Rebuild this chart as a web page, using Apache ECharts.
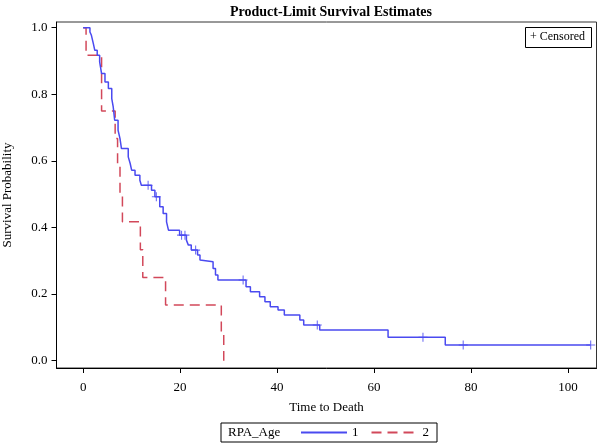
<!DOCTYPE html>
<html>
<head>
<meta charset="utf-8">
<script src="https://cdn.jsdelivr.net/npm/echarts@6/dist/echarts.min.js"></script>
<style>html,body{margin:0;padding:0;background:#fff;}#c{width:600px;height:444px;}</style>
</head>
<body>
<div id="c"></div>
<script>
// Kaplan-Meier step data: [time, survival]
const group1Steps = [
  [0,1.0],[1.4,0.987],[1.7,0.977],[2.1,0.952],[2.4,0.932],[2.9,0.917],[3.4,0.897],
  [3.8,0.862],[4.5,0.837],[5.2,0.817],[5.9,0.787],[6.2,0.762],[6.5,0.722],[7.2,0.692],
  [7.6,0.667],[7.9,0.637],[9.3,0.612],[9.7,0.592],[10.0,0.572],[10.7,0.557],[11.7,0.542],
  [12.0,0.527],[14.1,0.512],[14.8,0.492],[15.8,0.462],[16.5,0.442],[17.2,0.417],[17.6,0.392],
  [19.9,0.377],[21.3,0.362],[21.7,0.347],[22.3,0.332],[23.6,0.317],[24.1,0.302],[24.4,0.297],
  [26.8,0.277],[27.3,0.257],[27.8,0.242],[33.6,0.222],[34.5,0.207],[36.4,0.192],[37.5,0.177],
  [38.6,0.162],[40.2,0.152],[41.5,0.137],[44.7,0.122],[45.5,0.107],[48.8,0.092],[62.9,0.070],
  [74.7,0.047],[104.7,0.047]
];
const group1Censored = [13.4, 15.1, 20.3, 21.0, 23.2, 33.0, 48.3, 70.1, 78.4, 104.7];
const group2Steps = [
  [0,1.0],[0.6,0.917],[3.8,0.75],[6.6,0.667],[7.1,0.583],[7.6,0.5],[8.1,0.417],
  [11.8,0.333],[12.3,0.25],[17.0,0.167],[28.5,0.083],[29.0,0.0]
];
const group2Censored = [];
const xTicks = [0, 20, 40, 60, 80, 100];
const yTicks = [0, 0.2, 0.4, 0.6, 0.8, 1.0];
const groupNames = ['1', '2'];

function survAt(steps, t) {
  let v = steps[0][1];
  for (const p of steps) { if (p[0] <= t) v = p[1]; }
  return v;
}
const plus = 'path://M0,4.4L10,4.4L10,5.6L0,5.6ZM4.4,0L5.6,0L5.6,10L4.4,10Z';
const blue = '#4a4af0', red = '#d2485a';
const font = '"Liberation Serif", "DejaVu Serif", serif';

const chart = echarts.init(document.getElementById('c'), null, {renderer: 'canvas'});
chart.setOption({
  animation: false,
  backgroundColor: '#fff',
  title: {
    text: 'Product-Limit Survival Estimates', left: 326, top: 0, textAlign: 'center',
    textStyle: {fontFamily: font, fontSize: 14, fontWeight: 'bold', color: '#000'}
  },
  grid: {left: 56.5, right: 3.5, top: 22, bottom: 76, show: true, borderColor: '#333', borderWidth: 1,
         backgroundColor: 'transparent', outerBoundsMode: 'none', containLabel: false},
  xAxis: {
    type: 'value', min: -5.5, max: 105.9,
    name: 'Time to Death', nameLocation: 'middle', nameGap: 33,
    nameTextStyle: {fontFamily: font, fontSize: 13, color: '#000'},
    axisLine: {show: true, onZero: false, lineStyle: {color: '#000', width: 1}},
    axisTick: {show: true, length: 5, inside: false, customValues: xTicks, lineStyle: {color: '#000'}},
    axisLabel: {customValues: xTicks, margin: 13, fontFamily: font, fontSize: 13, color: '#000'},
    splitLine: {show: false}
  },
  yAxis: {
    type: 'value', min: -0.022, max: 1.017,
    name: 'Survival Probability', nameLocation: 'middle', nameGap: 42, nameRotate: 90,
    nameTextStyle: {fontFamily: font, fontSize: 13, color: '#000'},
    axisLine: {show: true, onZero: false, lineStyle: {color: '#000', width: 1}},
    axisTick: {show: true, length: 5, inside: false, customValues: yTicks, lineStyle: {color: '#000'}},
    axisLabel: {customValues: yTicks, margin: 9, fontFamily: font, fontSize: 13, color: '#000',
                formatter: v => v.toFixed(1)},
    splitLine: {show: false}
  },
  legend: {
    left: 221, top: 423, orient: 'horizontal',
    data: groupNames,
    padding: [3, 8, 3, 79], itemGap: 12, itemWidth: 46, itemHeight: 14,
    borderColor: '#000', borderWidth: 1,
    itemStyle: {opacity: 0},
    textStyle: {fontFamily: font, fontSize: 13, color: '#000'}
  },
  graphic: [
    {type: 'text', left: 228, top: 426, style: {text: 'RPA_Age', font: '13px ' + font, fill: '#000'}},
    {type: 'rect', shape: {x: 525.5, y: 27.5, width: 66, height: 20}, style: {fill: '#fff', stroke: '#000', lineWidth: 1}},
    {type: 'text', left: 530, top: 31, style: {text: '+ Censored', font: '12px ' + font, fill: '#000'}}
  ],
  series: [
    {name: groupNames[0], type: 'line', step: 'end', data: group1Steps, showSymbol: false, symbol: 'none',
     lineStyle: {color: blue, width: 1.5}, itemStyle: {color: blue}, z: 3},
    {name: groupNames[1], type: 'line', step: 'end', data: group2Steps, showSymbol: false, symbol: 'none',
     lineStyle: {color: red, width: 1.5, type: [10, 6]}, itemStyle: {color: red}, z: 2},
    {name: 'cens1', type: 'scatter', symbol: plus, symbolSize: 9, itemStyle: {color: blue},
     data: group1Censored.map(t => [t, survAt(group1Steps, t)]), z: 4},
    {name: 'cens2', type: 'scatter', symbol: plus, symbolSize: 9, itemStyle: {color: red},
     data: group2Censored.map(t => [t, survAt(group2Steps, t)]), z: 4}
  ]
});
</script>
</body>
</html>
